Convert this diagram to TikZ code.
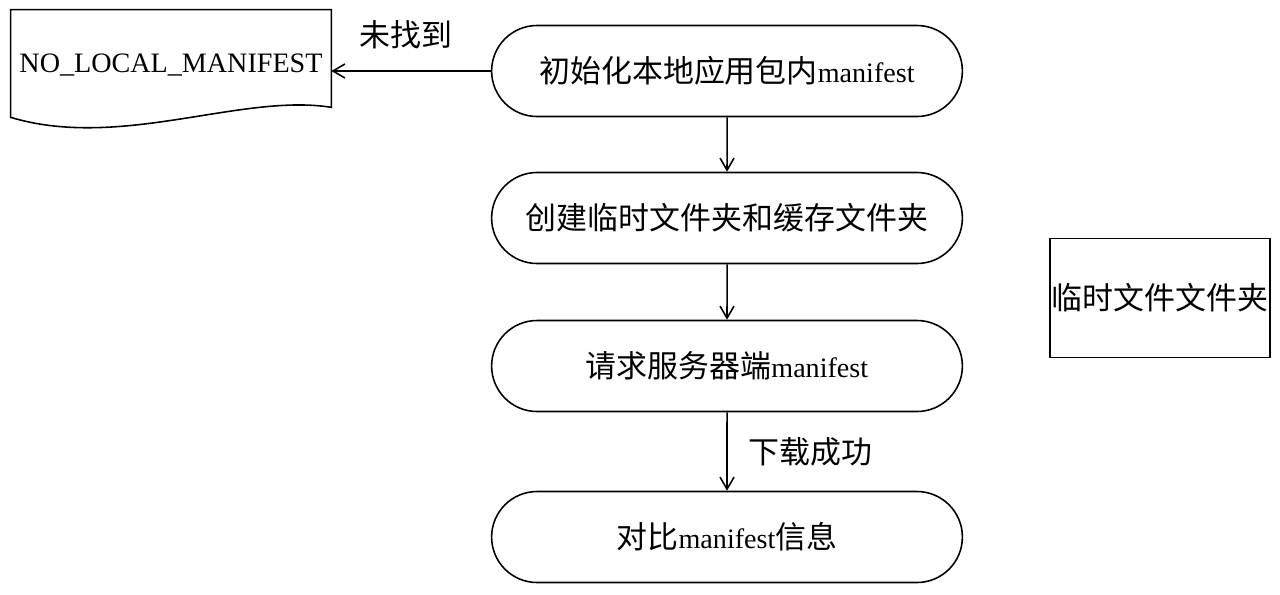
\documentclass[tikz,border=0pt]{standalone}
\usepackage{fontspec}
\setmainfont{Liberation Serif}
\newfontfamily\cjk[Scale=1.1]{Noto Sans CJK SC}
\usepackage{tikz}
\usetikzlibrary{shapes}
\usetikzlibrary{shapes.misc}
\usetikzlibrary{arrows.meta}
\usetikzlibrary{positioning}
\usetikzlibrary{calc}
\tikzstyle{debutfin}=[rounded rectangle,draw,line width=0.9pt,minimum width=9.65cm,minimum height=1.82cm,text=black]
\tikzstyle{document}=[rectangle,minimum width=6.4cm,minimum height=2.2cm,inner sep=0pt]
\tikzstyle{dossier}=[rectangle,draw,line width=0.9pt,minimum width=4.3cm,minimum height=2.38cm,inner sep=1pt]
\tikzstyle{suite}=[-{Straight Barb[length=2.4mm,width=2.8mm]},line width=0.9pt]

\begin{document}
\begin{tikzpicture}[font=\fontsize{16}{19}\selectfont]
\useasboundingbox (0,0) rectangle (25.6,-11.88);
\node[debutfin] (a) at (14.54,-1.42) {{\cjk 初始化本地应用包内}manifest};
\node[debutfin] (b) at (14.54,-4.36) {\cjk 创建临时文件夹和缓存文件夹};
\node[debutfin] (c) at (14.54,-7.32) {{\cjk 请求服务器端}manifest};
\node[debutfin] (d) at (14.54,-10.74) {{\cjk 对比}manifest{\cjk 信息}};
\node[document] (e) at (3.42,-1.3) {NO\_LOCAL\_MANIFEST};
\node[dossier] (f) at (23.2,-5.96) {\cjk 临时文件文件夹};
%Drawing Shapes
\draw[line width=0.9pt] (e.north west) -- (e.north east) -- ($(e.south east)+(0,0.26)$)
  .. controls ($(e.south east)+(-1.8,0.55)$) and ($(e.south west)+(2.2,-0.6)$) .. ($(e.south west)+(0,0.06)$) -- cycle;
%Drawing Edges
\draw[suite] (a.west) -- (a.west -| e.east) node[midway,above=0.3cm,xshift=-1mm]{\cjk 未找到};
\draw[suite] (a) -- (b);
\draw[suite] (b) -- (c);
\draw[suite] (c) -- (d) node[midway,right=0.3cm]{\cjk 下载成功};
\end{tikzpicture}
\end{document}
